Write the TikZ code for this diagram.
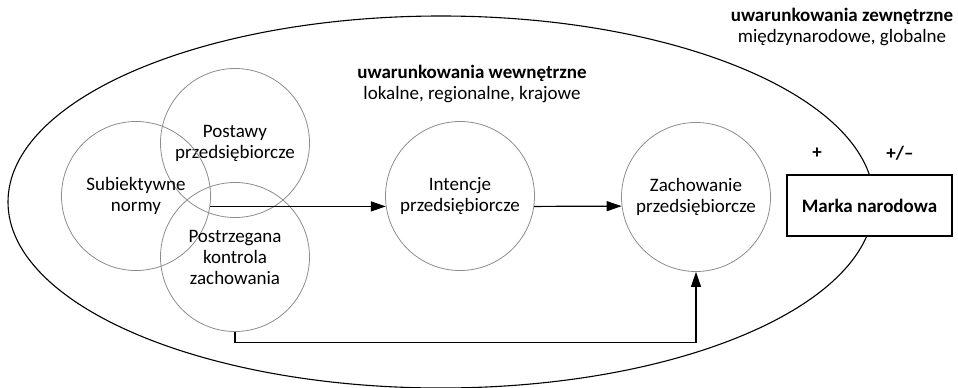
\documentclass[tikz,border=0pt]{standalone}
\usepackage{fontspec}
\setmainfont{Carlito}
\usetikzlibrary{arrows.meta,shapes.geometric,calc}
\begin{document}
\begin{tikzpicture}[x=1pt,y=-1pt,
  txt/.style={align=center,font=\fontsize{19}{21}\selectfont},
  circ/.style={circle,draw=black!45,line width=0.8pt,minimum size=149pt,inner sep=0pt,txt},
  arr/.style={line width=1.2pt,-{Triangle[length=15pt,width=10pt]}}]
\useasboundingbox (0,0) rectangle (958,388);
\node[ellipse,draw,line width=1.1pt,minimum width=866pt,minimum height=372pt,inner sep=0pt] (outer) at (441,202) {};
\node[draw,fill=white,line width=1.1pt,minimum width=165pt,minimum height=61pt,inner sep=0pt,txt,font=\fontsize{19}{21}\selectfont\bfseries] (marka) at (869.5,205.5) {Marka narodowa};
\node[circ] (post) at (235,143) {Postawy\\przedsiębiorcze};
\node[circ] (sub) at (136,196) {Subiektywne\\normy};
\node[circ] (kontr) at (235,257) {Postrzegana\\kontrola\\zachowania};
\node[circ] (int) at (460,196) {Intencje\\przedsiębiorcze};
\node[circ] (zach) at (696,197) {Zachowanie\\przedsiębiorcze};
\node[txt] (wew) at (472,84) {\textbf{uwarunkowania wewnętrzne}\\lokalne, regionalne, krajowe};
\node[txt] (zew) at (842,27) {\textbf{uwarunkowania zewnętrzne}\\międzynarodowe, globalne};
\node[txt,font=\fontsize{19}{21}\selectfont\bfseries] (plus) at (817,153) {+};
\node[txt,font=\fontsize{19}{21}\selectfont\bfseries] (pm) at (900,153) {+/–};
\draw[arr] (sub.-8.5) -- (int.188.5);
\draw[arr] (int.-8.5) -- (zach.187.7);
\draw[arr] (kontr.south) -- ++(0,10.5) -| (zach.south);
\end{tikzpicture}
\end{document}
